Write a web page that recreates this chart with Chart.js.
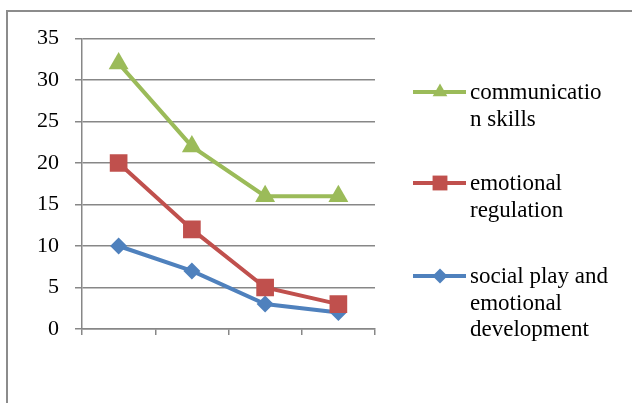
<!DOCTYPE html>
<html>
<head>
<meta charset="utf-8">
<script src="https://cdn.jsdelivr.net/npm/chart.js@4.4.1/dist/chart.umd.min.js"></script>
<style>
  html, body { margin: 0; padding: 0; background: #fff; overflow: hidden; }
  #wrap { position: relative; width: 632px; height: 403px; overflow: hidden; font-family: "Liberation Serif"; }
  #frame { position: absolute; left: 6px; top: 10px; width: 700px; height: 500px; border: 2px solid #8c8c8c; }
  #cityChart { position: absolute; left: 0; top: 0; }
  #warm { position: absolute; left: -999px; font: 22px "Liberation Serif"; }
</style>
</head>
<body>
<div id="wrap">
  <div id="frame"></div>
  <span id="warm">0123456789 abc</span>
  <canvas id="cityChart" width="632" height="403"></canvas>
</div>
<script>
const categories = ['', '', '', ''];
const seriesNames = ['communication skills', 'emotional regulation', 'social play and emotional development'];
const communication = [32, 22, 16, 16];
const regulation = [20, 12, 5, 3];
const socialPlay = [10, 7, 3, 2];
const yTicks = [0, 5, 10, 15, 20, 25, 30, 35];

const FONT = '"Liberation Serif"';
const GRID = '#878787';

const datasets = [
    { label: seriesNames[0], data: communication, borderColor: '#9BBB59', backgroundColor: '#9BBB59',
      pointStyle: 'triangle', pointRadius: 11.5, legendRadius: 8.5 },
    { label: seriesNames[1], data: regulation, borderColor: '#C0504D', backgroundColor: '#C0504D',
      pointStyle: 'rect', pointRadius: 12.5, legendRadius: 10.5 },
    { label: seriesNames[2], data: socialPlay, borderColor: '#4F81BD', backgroundColor: '#4F81BD',
      pointStyle: 'rectRot', pointRadius: 8.5, legendRadius: 7.5 }
].map(d => Object.assign(d, { borderWidth: 4, pointBorderWidth: 0, tension: 0, fill: false,
    pointHoverRadius: d.pointRadius }));

// wrap legend text like the office legend does (breaks long words too)
function wrapText(ctx, text, maxW) {
    const lines = [];
    let cur = '';
    text.split(' ').forEach(word => {
        let trial = cur ? cur + ' ' + word : word;
        if (ctx.measureText(trial).width <= maxW) { cur = trial; return; }
        if (cur) { lines.push(cur); cur = ''; }
        while (ctx.measureText(word).width > maxW) {
            let n = word.length;
            while (n > 1 && ctx.measureText(word.slice(0, n)).width > maxW) n--;
            lines.push(word.slice(0, n));
            word = word.slice(n);
        }
        cur = word;
    });
    if (cur) lines.push(cur);
    return lines;
}

const sideLegend = {
    id: 'sideLegend',
    afterDraw(chart) {
        const ctx = chart.ctx;
        const baselines = [99, 190, 283];
        ctx.save();
        ctx.font = '23px ' + FONT;
        ctx.textBaseline = 'alphabetic';
        chart.data.datasets.forEach((ds, i) => {
            const yb = baselines[i];
            const ly = yb - 7;
            ctx.strokeStyle = ds.borderColor;
            ctx.lineWidth = 4;
            ctx.beginPath();
            ctx.moveTo(413, ly);
            ctx.lineTo(466, ly);
            ctx.stroke();
            ctx.fillStyle = ds.backgroundColor;
            Chart.helpers.drawPoint(ctx, {
                pointStyle: ds.pointStyle, radius: ds.legendRadius, borderWidth: 0, rotation: 0
            }, 440, ly);
            ctx.fillStyle = '#000';
            wrapText(ctx, ds.label, 140).forEach((line, k) => {
                ctx.fillText(line, 470, yb + k * 26.5);
            });
        });
        ctx.restore();
    }
};

function draw() {
    new Chart(document.getElementById('cityChart').getContext('2d'), {
        type: 'line',
        data: { labels: categories, datasets: datasets },
        plugins: [sideLegend],
        options: {
            responsive: false,
            animation: false,
            layout: { padding: { left: 0, right: 257, top: 38.5, bottom: 0 } },
            plugins: { legend: { display: false }, tooltip: { enabled: false } },
            scales: {
                x: {
                    type: 'category',
                    offset: true,
                    grid: { offset: true, drawOnChartArea: false, drawTicks: true, tickLength: 6, color: GRID, lineWidth: 1.5 },
                    border: { display: true, color: GRID, width: 1.5 },
                    ticks: { callback: () => '', padding: 0 },
                    afterFit: s => { s.height = 74; }
                },
                y: {
                    min: yTicks[0],
                    max: yTicks[yTicks.length - 1],
                    afterBuildTicks: s => { s.ticks = yTicks.map(v => ({ value: v })); },
                    grid: { color: GRID, lineWidth: 1.5, tickLength: 7 },
                    border: { display: true, color: GRID, width: 1.5 },
                    ticks: { font: { family: FONT, size: 22 }, color: '#000', padding: 16 },
                    afterFit: s => { s.width = 82; }
                }
            }
        }
    });
}

document.fonts.load('22px "Liberation Serif"').then(draw, draw);
</script>
</body>
</html>
